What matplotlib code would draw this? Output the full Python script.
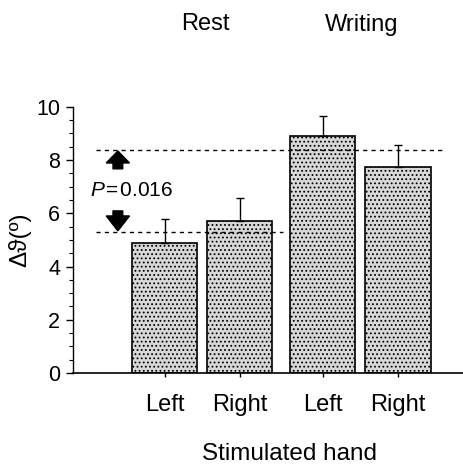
import numpy as np
import matplotlib
matplotlib.use('Agg')
import matplotlib.pyplot as plt

plt.rcParams['font.family'] = ['Liberation Sans', 'DejaVu Sans']
plt.rcParams['mathtext.fontset'] = 'custom'
plt.rcParams['mathtext.rm'] = 'Liberation Sans'
plt.rcParams['mathtext.it'] = 'Liberation Sans:italic'
plt.rcParams['hatch.color'] = '#6e6e6e'
plt.rcParams['hatch.linewidth'] = 0.8

####DATA####
conditions = ['Rest', 'Writing']
hands = ['Left', 'Right', 'Left', 'Right']
means = [4.89, 5.71, 8.91, 7.74]
errs = [0.90, 0.87, 0.75, 0.83]
rest_level = 5.30
writing_level = 8.38
pvalue = '0.016'

####FIGURE####
xpos = np.array([0, 1, 2.107, 3.107])
fig = plt.figure(figsize=(4.64, 4.67), dpi=100)
ax = fig.add_axes([0.157, 0.2013, 0.843, 0.570])

ax.bar(xpos, means, width=0.867, facecolor='#d8d8d8', edgecolor='black',
       linewidth=1.2, hatch='....', zorder=2)
ax.errorbar(xpos, means, yerr=[np.zeros(4), errs], fmt='none', ecolor='black',
            elinewidth=1, capsize=3, capthick=1, zorder=3)

ax.plot([-0.92, 3.70], [writing_level, writing_level], ls=(0, (3, 3)), color='black', lw=1, zorder=4)
ax.plot([-0.92, 1.573], [rest_level, rest_level], ls=(0, (3, 3)), color='black', lw=1, zorder=4)

# arrows
ax.arrow(-0.627, 7.67, 0, 0.67, width=0.13, head_width=0.31, head_length=0.45,
         length_includes_head=True, color='black', zorder=5)
ax.arrow(-0.627, 6.09, 0, -0.75, width=0.13, head_width=0.31, head_length=0.56,
         length_includes_head=True, color='black', zorder=5)
ax.text(-1.0, 6.84, '$P$\u200a=\u200a' + pvalue, fontsize=15, va='center', ha='left')

ax.set_xlim(-1.227, 3.987)
ax.set_ylim(0, 10)
ax.set_yticks(np.arange(0, 11, 2))
ax.set_yticks(np.arange(0, 10.01, 0.5), minor=True)
ax.set_xticks(xpos)
ax.set_xticklabels(hands)
ax.tick_params(axis='y', labelsize=15.5, length=5, width=1, direction='out', pad=4)
ax.tick_params(axis='y', which='minor', length=3, width=0.8)
ax.tick_params(axis='x', labelsize=17, length=3, width=1, direction='out', pad=12)
ax.spines['top'].set_visible(False)
ax.spines['right'].set_visible(False)
ax.spines['left'].set_linewidth(1)
ax.spines['bottom'].set_linewidth(1.2)
ax.set_ylabel('Δϑ(º)', fontsize=17.5, labelpad=4)

fig.text(205 / 464, 1 - 24 / 467, conditions[0], fontsize=17, ha='center', va='center')
fig.text(362 / 464, 1 - 25 / 467, conditions[1], fontsize=17, ha='center', va='center')
fig.text(290 / 464, 1 - 454 / 467, 'Stimulated hand', fontsize=17.5, ha='center', va='center')

fig.savefig('out.png', dpi=100)
